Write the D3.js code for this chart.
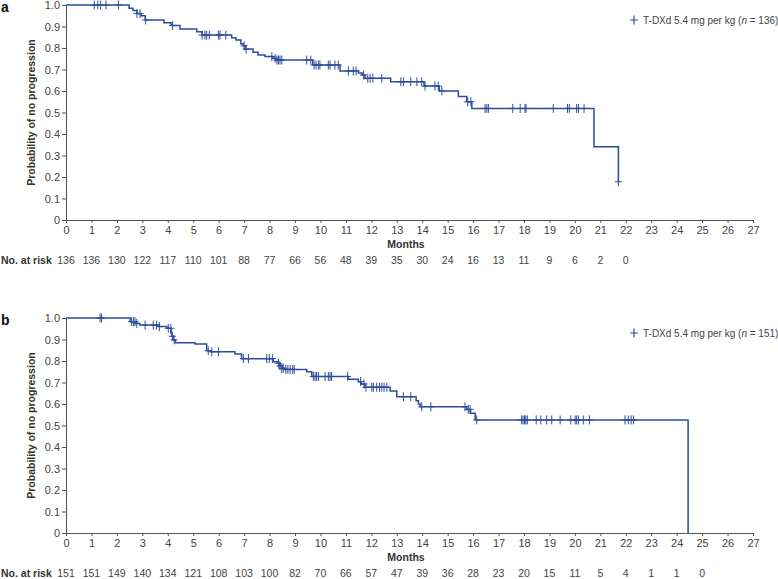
<!DOCTYPE html>
<html>
<head>
<meta charset="utf-8">
<script src="https://cdn.jsdelivr.net/npm/d3@7"></script>
<style>
  body { margin: 0; background: #fff; }
  svg { display: block; font-family: "Liberation Sans", Arial, sans-serif; }
</style>
</head>
<body>
<svg id="chart" width="778" height="579"></svg>
<script>
// months shown on the x axis
var monthTicks = d3.range(0, 28);
var probTicks = [0, 0.1, 0.2, 0.3, 0.4, 0.5, 0.6, 0.7, 0.8, 0.9, 1.0];

// panel a: KM steps [month, survival after the drop]
var eventsA = [
  [0, 1], [2.48, 0.985], [2.63, 0.975], [2.79, 0.96], [2.95, 0.95], [3.11, 0.93],
  [3.85, 0.918], [4.13, 0.905], [4.48, 0.888], [5.14, 0.876], [5.35, 0.86],
  [6.51, 0.848], [6.68, 0.837], [6.87, 0.82], [6.96, 0.81], [7.04, 0.795],
  [7.35, 0.78], [7.55, 0.768], [7.82, 0.76], [8.13, 0.752], [8.25, 0.744],
  [9.70, 0.721], [10.77, 0.693], [11.49, 0.684], [11.64, 0.674], [11.75, 0.659],
  [12.76, 0.643], [14.07, 0.623], [14.67, 0.60], [15.42, 0.574], [15.75, 0.55],
  [15.95, 0.519], [20.75, 0.341], [21.71, 0.178]
];
var censorA = [
  1.11, 1.25, 1.36, 1.57, 2.06, 2.79, 2.91, 3.13, 4.19, 5.35, 5.46, 5.53, 5.63,
  5.99, 6.05, 6.28, 7.00, 7.08, 8.09, 8.22, 8.29, 8.35, 8.41, 8.48, 9.46, 9.62,
  9.75, 9.83, 9.92, 9.98, 10.31, 10.38, 10.57, 10.70, 11.10, 11.29, 11.40, 11.69,
  11.86, 11.95, 12.06, 12.41, 13.16, 13.26, 13.55, 13.79, 13.98, 14.11, 14.50,
  14.63, 14.77, 15.79, 15.91, 16.47, 16.54, 16.60, 17.56, 17.85, 18.04, 18.08,
  19.15, 19.71, 19.78, 20.07, 20.14, 20.36, 21.71
];
var riskA = [136, 136, 130, 122, 117, 110, 101, 88, 77, 66, 56, 48, 39, 35, 30, 24, 16, 13, 11, 9, 6, 2, 0];

// panel b
var eventsB = [
  [0, 1], [2.52, 0.983], [2.75, 0.975], [2.9, 0.967], [3.67, 0.96], [3.96, 0.952],
  [4.13, 0.929], [4.16, 0.915], [4.21, 0.898], [4.3, 0.885], [5.07, 0.879],
  [5.53, 0.848], [5.7, 0.843], [6.64, 0.833], [6.9, 0.811], [8.15, 0.797],
  [8.35, 0.789], [8.41, 0.777], [8.48, 0.766], [8.6, 0.761], [9.46, 0.75],
  [9.66, 0.728], [11.10, 0.715], [11.49, 0.704], [11.6, 0.693], [11.75, 0.678],
  [12.74, 0.66], [13.0, 0.634], [13.76, 0.615], [13.85, 0.60], [13.92, 0.587],
  [15.75, 0.575], [15.9, 0.557], [16.08, 0.526], [24.45, 0]
];
var censorB = [
  1.34, 1.40, 2.58, 2.65, 2.71, 2.78, 3.11, 3.43, 3.56, 3.67, 4.02, 4.12, 4.18,
  4.25, 5.59, 5.73, 5.99, 6.97, 7.17, 7.89, 7.99, 8.11, 8.35, 8.41, 8.48, 8.54,
  8.64, 8.72, 8.81, 8.91, 8.97, 9.72, 9.79, 9.85, 9.92, 10.18, 10.31, 10.38,
  10.44, 11.07, 11.58, 11.71, 11.79, 12.02, 12.08, 12.21, 12.32, 12.41, 12.50,
  12.61, 13.26, 13.55, 13.98, 14.34, 15.68, 15.81, 15.88, 16.14, 17.91, 17.96,
  18.02, 18.07, 18.13, 18.48, 18.66, 18.89, 19.09, 19.42, 19.84, 20.01, 20.07,
  20.14, 20.33, 20.57, 21.97, 22.10, 22.21, 22.30
];
var riskB = [151, 151, 149, 140, 134, 121, 108, 103, 100, 82, 70, 66, 57, 47, 39, 36, 28, 23, 20, 15, 11, 5, 4, 1, 1, 0];

var lineColor = "#2d4d9c";
var textColor = "#444";
var svg = d3.select("#chart");

var x = d3.scaleLinear().domain([0, 27]).range([66, 753]);

// survival value at time t (after any drop at t)
function survAt(events, t) {
  var s = 1;
  events.forEach(function(e) { if (e[0] <= t + 1e-9) s = e[1]; });
  return s;
}

function plus(px, py, h, v) {
  return "M" + (px - h) + "," + py + "H" + (px + h) + "M" + px + "," + (py - v) + "V" + (py + v);
}

function drawPanel(opt) {
  var y = d3.scaleLinear().domain([0, 1]).range([opt.bottom, opt.top]);
  var g = svg.append("g");

  // axes
  var xAxis = g.append("g")
      .attr("transform", "translate(0," + opt.bottom + ")")
      .call(d3.axisBottom(x).tickValues(monthTicks).tickSize(3).tickPadding(3).tickSizeOuter(0));
  var yAxis = g.append("g")
      .attr("transform", "translate(66,0)")
      .call(d3.axisLeft(y).tickValues(probTicks).tickSize(4).tickPadding(2).tickSizeOuter(0)
        .tickFormat(function(d) { return d === 0 ? "0" : d3.format(".1f")(d); }));
  [xAxis, yAxis].forEach(function(a) {
    a.select(".domain").attr("stroke", "#555").attr("stroke-width", 1.1);
    a.selectAll(".tick line").attr("stroke", "#555");
    a.selectAll(".tick text").attr("fill", textColor).style("font-size", "11px");
  });

  // y title
  g.append("text")
    .attr("transform", "translate(35," + ((opt.top + opt.bottom) / 2) + ") rotate(-90)")
    .attr("text-anchor", "middle")
    .style("font-size", "10.5px").style("font-weight", "bold").attr("fill", "#333")
    .text("Probability of no progression");

  // x title
  g.append("text")
    .attr("x", 406).attr("y", opt.bottom + 28)
    .attr("text-anchor", "middle")
    .style("font-size", "10.5px").style("font-weight", "bold").attr("fill", "#333")
    .text("Months");

  // numbers at risk
  g.append("text")
    .attr("x", 1).attr("y", opt.bottom + 44)
    .style("font-size", "10.5px").style("font-weight", "bold").attr("fill", "#333")
    .text("No. at risk");
  g.selectAll(".risk").data(opt.risk).enter().append("text")
    .attr("x", function(d, i) { return x(i); })
    .attr("y", opt.bottom + 44)
    .attr("text-anchor", "middle")
    .style("font-size", "10.5px").attr("fill", textColor)
    .text(function(d) { return d; });

  // panel letter
  g.append("text")
    .attr("x", 1).attr("y", opt.top + 7)
    .style("font-size", "14px").style("font-weight", "bold").attr("fill", "#111")
    .text(opt.letter);

  // KM curve
  var last = opt.events[opt.events.length - 1];
  var pts = opt.events.slice();
  if (opt.endT > last[0]) pts.push([opt.endT, last[1]]);
  var line = d3.line()
    .x(function(d) { return x(d[0]); })
    .y(function(d) { return y(d[1]); })
    .curve(d3.curveStepAfter);
  g.append("path")
    .datum(pts)
    .attr("d", line)
    .attr("fill", "none")
    .attr("stroke", lineColor)
    .attr("stroke-width", 1.5);

  // censor marks
  g.selectAll(".cens").data(opt.censor).enter().append("path")
    .attr("d", function(t) { return plus(x(t), y(survAt(opt.events, t)), 3.5, 4.5); })
    .attr("fill", "none")
    .attr("stroke", lineColor)
    .attr("stroke-width", 1);

  // legend
  var lg = g.append("g").attr("transform", "translate(634," + (opt.top + 15) + ")");
  lg.append("path").attr("d", plus(0, 0, 4, 4.5))
    .attr("fill", "none").attr("stroke", lineColor).attr("stroke-width", 1.2);
  var lt = lg.append("text").attr("x", 9).attr("y", 3.5)
    .style("font-size", "10px").attr("fill", textColor);
  lt.append("tspan").text("T-DXd 5.4 mg per kg (");
  lt.append("tspan").style("font-style", "italic").text("n");
  lt.append("tspan").text(" = " + opt.n + ")");
}

drawPanel({ letter: "a", top: 5, bottom: 220, events: eventsA, censor: censorA, risk: riskA, n: 136, endT: 21.71 });
drawPanel({ letter: "b", top: 318, bottom: 533, events: eventsB, censor: censorB, risk: riskB, n: 151, endT: 24.45 });
</script>
</body>
</html>
